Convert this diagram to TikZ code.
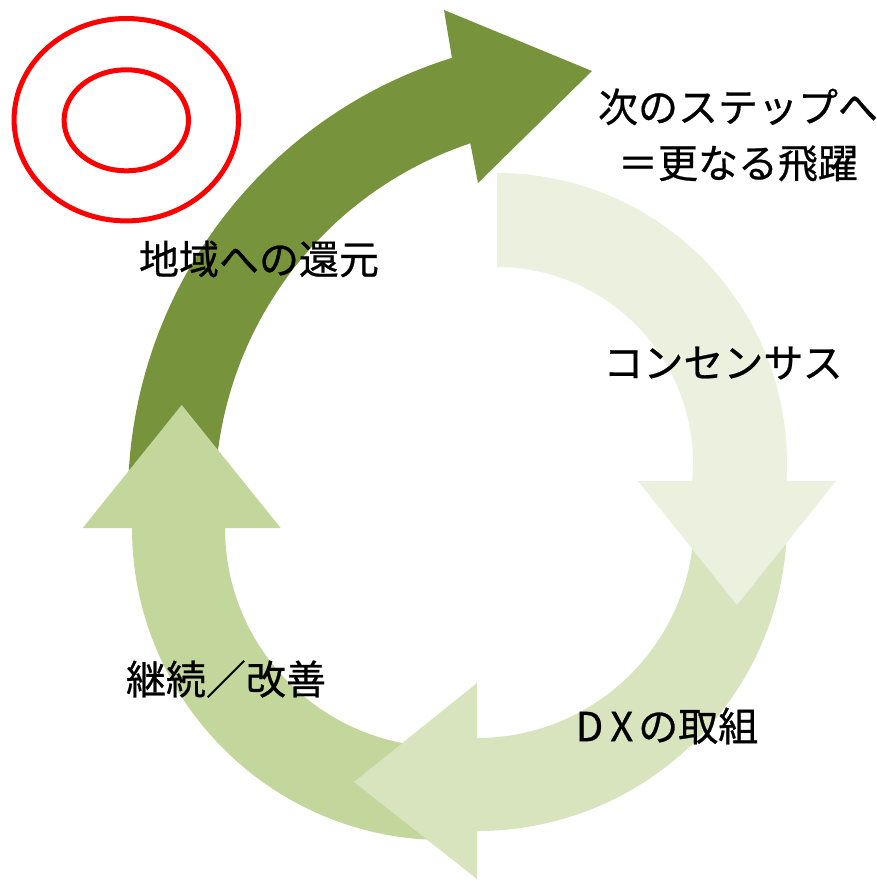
\documentclass[tikz,border=0pt]{standalone}
\usepackage{fontspec}
\newfontfamily\jp[FakeBold=0.6]{Noto Sans CJK JP}
\definecolor{segdark}{HTML}{77933C}
\definecolor{segthree}{HTML}{C3D69B}
\definecolor{segtwo}{HTML}{D7E4BD}
\definecolor{segone}{HTML}{EBF1DE}
\definecolor{ringred}{HTML}{FF0000}
\begin{document}
\begin{tikzpicture}[x=1pt,y=-1pt,
  lbl/.style={font=\jp\fontsize{40}{56}\selectfont, inner sep=0pt, text=black, align=center},
  ring/.style={draw=ringred, line width=5pt}]
\fill[white] (0,0) rectangle (877,880);
\useasboundingbox (0,0) rectangle (877,880);
% dark segment (top-left), arrow pointing right at top
\fill[segdark] (589,498) ++(180:461) arc[start angle=180, end angle=252.7, radius=461]
  -- (444,10) -- (592,71) -- (478,183) -- (470.3,143.3)
  arc[start angle=251.5, end angle=180, radius=374] -- cycle;
% bottom-left segment, arrow pointing up
\fill[segthree] (444,528) ++(90:312) arc[start angle=90, end angle=180, radius=312]
  -- (82.7,528) -- (181.7,405) -- (280.7,528) -- (225,528)
  arc[start angle=180, end angle=90, radius=219] -- cycle;
% bottom-right segment, arrow pointing left
\fill[segtwo] (477,521) ++(0:310) arc[start angle=0, end angle=90, radius=310]
  -- (477,879) -- (354,782) -- (477,683) -- (477,738)
  arc[start angle=90, end angle=0, radius=217] -- cycle;
% top-right segment, arrow pointing down
\fill[segone] (497,463) ++(270:290) arc[start angle=270, end angle=363.56, radius=290]
  -- (836,481) -- (737,605) -- (638,481) -- (692.2,481)
  arc[start angle=365.27, end angle=270, radius=196] -- cycle;
% red double ellipse
\draw[ring] (126.3,119.7) ellipse [x radius=112.2, y radius=101.2];
\draw[ring] (126.3,120.3) ellipse [x radius=62.2, y radius=50.5];
% labels
\node[lbl] (next) at (738,135) {次のステップへ\\＝更なる飛躍};
\node[lbl] (local) at (259,259) {地域への還元};
\node[lbl] (cons) at (723,363) {コンセンサス};
\node[lbl] (dx) at (667,726) {D\hspace{7pt}X\hspace{5pt}の取組};
\node[lbl] (cont) at (226,679) {継続／改善};
\end{tikzpicture}
\end{document}
